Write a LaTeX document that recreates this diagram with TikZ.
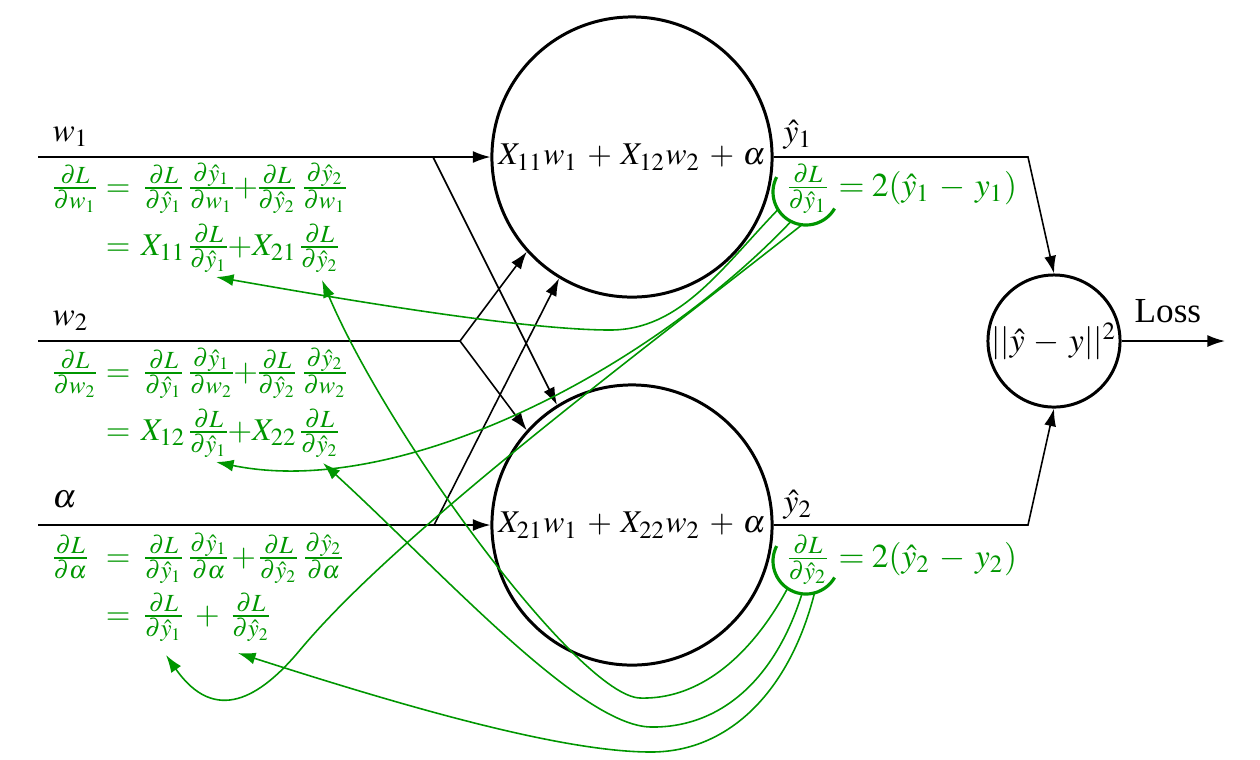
\documentclass[tikz,border=0pt]{standalone}
\usepackage{mathptmx}
\usepackage[no-math]{fontspec}
\setmainfont{Liberation Serif}
\usetikzlibrary{arrows.meta}
\definecolor{eqgreen}{RGB}{0,150,0}
\newcommand{\mypd}[2]{\frac{\partial #1}{\partial #2}}
\begin{document}
\begin{tikzpicture}[x=0.01cm,y=-0.01cm,
  conn/.style={line width=0.45pt,-{Latex[length=5pt,width=3.4pt]}},
  plain/.style={line width=0.45pt},
  mfont/.style={font=\fontsize{9.5pt}{11pt}\selectfont},
  sfont/.style={font=\fontsize{9pt}{11pt}\selectfont},
  neuron/.style={circle,draw,line width=0.85pt,minimum size=2.8cm,inner sep=0pt,sfont},
  lossnode/.style={circle,draw,line width=0.85pt,minimum size=1.32cm,inner sep=0pt,mfont},
  lbl/.style={anchor=base west,inner sep=0pt,mfont},
  eq/.style={anchor=base west,inner sep=0pt,text=eqgreen,sfont},
  back/.style={eqgreen,line width=0.45pt,-{Latex[length=5pt,width=3.4pt]}},
  hook/.style={eqgreen,line width=0.9pt}]
\medmuskip=5mu\relax
\useasboundingbox (0,0) rectangle (1260,759);

% neurons
\node[neuron] (c1) at (632,157) {$X_{11}w_1+X_{12}w_2+\alpha$};
\node[neuron] (c2) at (632,525) {$X_{21}w_1+X_{22}w_2+\alpha$};
\node[lossnode] (loss) at (1054,341) {$||\hat y-y||^2$};

% inputs
\coordinate (w1s) at (38,157); \coordinate (w1b) at (433,157);
\coordinate (w2s) at (38,341); \coordinate (w2b) at (460,341);
\coordinate (as) at (38,525);  \coordinate (ab) at (434,525);
\draw[conn] (w1s) -- (c1.west);
\draw[conn] (w1b) -- (c2.122);
\draw[plain] (w2s) -- (w2b);
\draw[conn] (w2b) -- (c1.222);
\draw[conn] (w2b) -- (c2.138);
\draw[conn] (as) -- (c2.west);
\draw[conn] (ab) -- (c1.239);

% outputs
\coordinate (y1k) at (1028,157); \coordinate (y2k) at (1028,525);
\coordinate (lend) at (1225,341);
\draw[conn] (c1.east) -- (y1k) -- (loss.north);
\draw[conn] (c2.east) -- (y2k) -- (loss.south);
\draw[conn] (loss.east) -- (lend);

% labels
\node[lbl] (lw1) at (52,141) {$w_1$};
\node[lbl] (lw2) at (52,325) {$w_2$};
\node[lbl] (la) at (52,507) {$\alpha$};
\node[lbl] (ly1) at (783,142) {$\hat y_1$};
\node[lbl] (ly2) at (783,512) {$\hat y_2$};
\node[lbl,font=\fontsize{10pt}{12pt}\selectfont] (lloss) at (1134,322) {Loss};

% green equations
\node[eq] (e1a) at (49,196) {\makebox[16pt][l]{$\mypd{L}{w_1}$}$=$\hspace{3pt}$\mypd{L}{\hat y_1}\mypd{\hat y_1}{w_1}\!{+}\!\mypd{L}{\hat y_2}\mypd{\hat y_2}{w_1}$};
\node[eq] (e1b) at (49,255) {\hspace{16pt}$=$\hspace{3pt}$X_{11}\mypd{L}{\hat y_1}\!{+}X_{21}\mypd{L}{\hat y_2}$};
\node[eq] (e2a) at (49,381) {\makebox[16pt][l]{$\mypd{L}{w_2}$}$=$\hspace{3pt}$\mypd{L}{\hat y_1}\mypd{\hat y_1}{w_2}\!{+}\!\mypd{L}{\hat y_2}\mypd{\hat y_2}{w_2}$};
\node[eq] (e2b) at (49,440) {\hspace{16pt}$=$\hspace{3pt}$X_{12}\mypd{L}{\hat y_1}\!{+}X_{22}\mypd{L}{\hat y_2}$};
\node[eq] (e3a) at (49,566) {\makebox[16pt][l]{$\mypd{L}{\alpha}$}$=$\hspace{3pt}$\mypd{L}{\hat y_1}\mypd{\hat y_1}{\alpha}{+}\mypd{L}{\hat y_2}\mypd{\hat y_2}{\alpha}$};
\node[eq] (e3b) at (49,624) {\hspace{16pt}$=$\hspace{3pt}$\mypd{L}{\hat y_1}+\mypd{L}{\hat y_2}$};
\node[eq,font=\fontsize{9.5pt}{11pt}\selectfont] (ey1) at (784,196) {$\mypd{L}{\hat y_1}=2(\hat y_1-y_1)$};
\node[eq,font=\fontsize{9.5pt}{11pt}\selectfont] (ey2) at (784,567) {$\mypd{L}{\hat y_2}=2(\hat y_2-y_2)$};

% hooks
\coordinate (h1) at (806,192);
\coordinate (h2) at (806,561);
\draw[hook] (h1) ++(207:33) arc[start angle=207,end angle=30,radius=33];
\draw[hook] (h2) ++(207:33) arc[start angle=207,end angle=30,radius=33];
\path (h1) ++(148:33) coordinate (s11);
\path (h1) ++(117:33) coordinate (s12);
\path (h1) ++(97:33) coordinate (s13);
\path (h2) ++(124:33) coordinate (s21);
\path (h2) ++(97:33) coordinate (s22);
\path (h2) ++(75:33) coordinate (s23);

% targets
\coordinate (t11) at (216,277);
\coordinate (t12) at (216,462);
\coordinate (t13) at (166,655);
\coordinate (t21) at (322,280);
\coordinate (t22) at (323,463);
\coordinate (t23) at (238,653);

% backprop curves
\draw[back] (s11) .. controls (720,270) and (680,330) .. (610,330) .. controls (520,330) and (330,297) .. (t11);
\draw[back] (s12) .. controls (650,370) and (400,500) .. (t12);
\draw[back] (s13) .. controls (650,345) and (400,530) .. (300,650) .. controls (260,698) and (215,725) .. (t13);
\draw[back] (s21) .. controls (760,640) and (710,700) .. (640,698) .. controls (580,696) and (390,440) .. (t21);
\draw[back] (s22) .. controls (775,680) and (720,728) .. (651,727) .. controls (580,726) and (440,570) .. (t22);
\draw[back] (s23) .. controls (790,690) and (730,752) .. (651,752) .. controls (560,752) and (400,705) .. (t23);
\end{tikzpicture}
\end{document}
